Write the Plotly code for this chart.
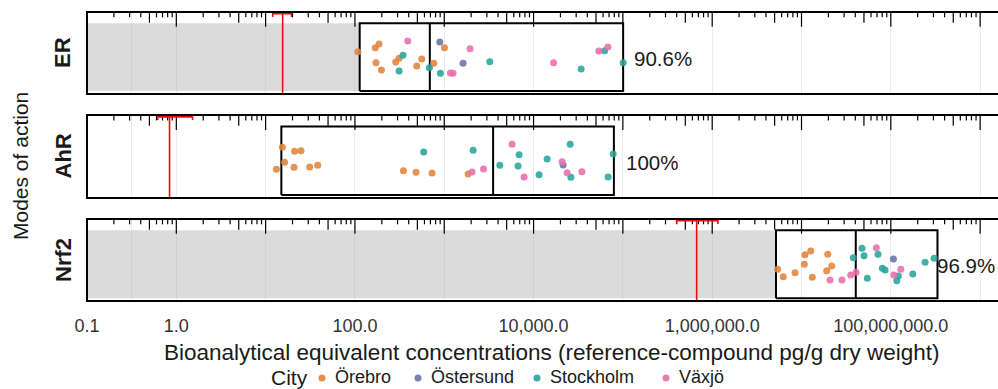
import math
import plotly.graph_objects as go

# ---------------- data ----------------
modes = ["ER", "AhR", "Nrf2"]
cities = ["Örebro", "Östersund", "Stockholm", "Växjö"]
city_colors = ["#E0843A", "#6673A8", "#25A59C", "#E96EAB"]

er_city = ["Örebro", "Örebro", "Örebro", "Växjö", "Örebro", "Örebro", "Stockholm",
           "Örebro", "Örebro", "Stockholm", "Örebro", "Örebro", "Stockholm", "Örebro",
           "Östersund", "Örebro", "Stockholm", "Växjö", "Växjö", "Växjö", "Östersund",
           "Stockholm", "Växjö", "Stockholm", "Växjö", "Växjö", "Stockholm", "Stockholm"]
er_value = [108, 169, 186, 390, 172, 198, 345, 312, 286, 312, 492, 560, 682, 763,
            891, 1005, 906, 1173, 1255, 1945, 1625, 3236, 16750, 34100, 53800, 67900,
            62400, 100700]
er_jitter = [0.516, 0.565, 0.610, 0.646, 0.382, 0.293, 0.472, 0.435, 0.390, 0.280,
             0.341, 0.427, 0.321, 0.374, 0.634, 0.565, 0.252, 0.256, 0.252, 0.552,
             0.374, 0.394, 0.382, 0.305, 0.524, 0.573, 0.528, 0.382]

ahr_city = ["Örebro", "Örebro", "Örebro", "Örebro", "Örebro", "Örebro", "Örebro",
            "Örebro", "Örebro", "Örebro", "Stockholm", "Örebro", "Stockholm", "Örebro",
            "Växjö", "Växjö", "Stockholm", "Växjö", "Stockholm", "Stockholm", "Växjö",
            "Stockholm", "Stockholm", "Växjö", "Östersund", "Stockholm", "Växjö",
            "Stockholm", "Växjö", "Stockholm", "Stockholm"]
ahr_value = [15.4, 21.1, 24.9, 16.3, 13.2, 20.8, 31.1, 38.3, 349, 483, 589, 730,
             2104, 1849, 2048, 2750, 4188, 5750, 6890, 6710, 7840, 11530, 14190,
             20890, 21430, 25700, 23770, 26140, 34750, 68400, 77840]
ahr_jitter = [0.611, 0.563, 0.570, 0.430, 0.346, 0.370, 0.373, 0.394, 0.329, 0.310,
              0.554, 0.301, 0.575, 0.289, 0.313, 0.349, 0.394, 0.647, 0.522, 0.386,
              0.253, 0.281, 0.470, 0.437, 0.398, 0.647, 0.305, 0.249, 0.317, 0.253,
              0.530]

nrf2_city = ["Örebro"] * 10 + ["Växjö"] * 4 + ["Stockholm"] * 3 + ["Växjö"] + \
            ["Stockholm"] * 4 + ["Östersund"] + ["Växjö"] * 2 + ["Stockholm"] * 5
nrf2_value = [5.41e6, 6.25e6, 8.46e6, 1.094e7, 1.268e7, 1.075e7, 1.321e7, 1.967e7,
              2.18e7, 1.916e7, 2.085e7, 2.84e7, 3.56e7, 4.08e7, 3.80e7, 4.76e7,
              5.01e7, 6.89e7, 7.19e7, 5.46e7, 8.04e7, 8.63e7, 1.069e8, 1.294e8,
              1.08e8, 1.216e8, 1.167e8, 1.762e8, 2.42e8, 3.05e8]
nrf2_jitter = [0.387, 0.296, 0.345, 0.565, 0.610, 0.448, 0.289, 0.570, 0.427, 0.370,
               0.256, 0.256, 0.317, 0.350, 0.528, 0.643, 0.552, 0.650, 0.570, 0.277,
               0.399, 0.378, 0.512, 0.387, 0.317, 0.305, 0.248, 0.329, 0.472, 0.521]

box_min = [113, 15.0, 5.18e6]
box_median = [689, 3524, 4.05e7]
box_max = [100700, 79300, 3.33e8]
shade_end = [113, None, 5.18e6]          # grey region (below detection)
red_line = [15.5, 0.84, 6.7e5]
red_cap_lo = [12.0, 0.62, 4.0e5]         # extent of the red cap at the panel top
red_cap_hi = [19.5, 1.52, 1.16e6]
detect_pct = ["90.6%", "100%", "96.9%"]

tick_vals = [0.1, 1, 100, 1e4, 1e6, 1e8]
tick_text = ["0.1", "1.0", "100.0", "10,000.0", "1,000,000.0", "100,000,000.0"]
minor_vals = [10 ** -0.5, 10, 1e3, 1e5, 1e7, 1e9]

panel_city = [er_city, ahr_city, nrf2_city]
panel_value = [er_value, ahr_value, nrf2_value]
panel_jitter = [er_jitter, ahr_jitter, nrf2_jitter]

# ---------------- layout geometry ----------------
FONT = "Liberation Sans, Arial, sans-serif"
W, H = 998, 389
ML, MR, MT, MB = 87, 0, 12, 88
PW, PH = W - ML - MR, H - MT - MB
domains = [[0.7163, 1.0], [0.3564, 0.6436], [0.0, 0.2837]]
BOX_LO, BOX_HI = 0.035, 0.862


def px_x(px):
    return (px - ML) / PW


def px_y(py):
    return (H - MB - py) / PH


fig = go.Figure()

# log ticks hanging from the top border
tick_x, tick_y = [], []
for k in range(-1, 10):
    for m in range(1, 10):
        v = m * 10 ** k
        ln = 0.18 if m == 1 else (0.13 if m == 5 else 0.065)
        tick_x += [v, v, None]
        tick_y += [1.0, 1.0 - ln, None]

for i, mode in enumerate(modes):
    xa = "x" if i == 0 else f"x{i+1}"
    ya = "y" if i == 0 else f"y{i+1}"

    # grey shaded region
    if shade_end[i] is not None:
        fig.add_trace(go.Scatter(
            x=[10 ** -1.2, shade_end[i], shade_end[i], 10 ** -1.2, 10 ** -1.2],
            y=[BOX_LO, BOX_LO, BOX_HI, BOX_HI, BOX_LO],
            fill="toself", fillcolor="rgba(175,175,175,0.45)", mode="lines",
            line=dict(width=0), hoverinfo="skip", showlegend=False,
            xaxis=xa, yaxis=ya))

    # top log ticks
    fig.add_trace(go.Scatter(x=tick_x, y=tick_y, mode="lines",
                             line=dict(color="black", width=1.2),
                             hoverinfo="skip", showlegend=False,
                             xaxis=xa, yaxis=ya))

    # red reference line with its cap at the top
    fig.add_trace(go.Scatter(
        x=[red_line[i], red_line[i], None,
           red_cap_lo[i], red_cap_lo[i], red_cap_hi[i], red_cap_hi[i]],
        y=[0, 1, None, 0.94, 0.978, 0.978, 0.94],
        mode="lines", line=dict(color="#E3100F", width=1.6),
        hoverinfo="skip", showlegend=False, xaxis=xa, yaxis=ya))

    # crossbar (min / median / max)
    fig.add_trace(go.Scatter(
        x=[box_min[i], box_max[i], box_max[i], box_min[i], box_min[i], None,
           box_median[i], box_median[i]],
        y=[BOX_LO, BOX_LO, BOX_HI, BOX_HI, BOX_LO, None, BOX_LO, BOX_HI],
        mode="lines", line=dict(color="black", width=2),
        hoverinfo="skip", showlegend=False, xaxis=xa, yaxis=ya))

    # jittered points per city
    for c, col in zip(cities, city_colors):
        xs = [v for v, cc in zip(panel_value[i], panel_city[i]) if cc == c]
        ys = [j for j, cc in zip(panel_jitter[i], panel_city[i]) if cc == c]
        fig.add_trace(go.Scatter(
            x=xs, y=ys, mode="markers", name=c, legendgroup=c,
            showlegend=False,
            marker=dict(color=col, size=7, opacity=0.88, line=dict(width=0)),
            xaxis=xa, yaxis=ya))

    # detection percentage label
    fig.add_annotation(x=math.log10(box_max[i]), y=0.43, xref=xa, yref=ya,
                       text=detect_pct[i], showarrow=False, xanchor="left",
                       yanchor="middle", xshift=[9, 10, -2][i],
                       font=dict(size=20.5, color="#1A1A1A", family=FONT))

    # panel border (right side runs off the page, as in the cropped original)
    fig.add_shape(type="rect", xref=f"{xa} domain", yref=f"{ya} domain",
                  x0=0, x1=1.05, y0=0, y1=1, line=dict(color="black", width=2),
                  fillcolor="rgba(0,0,0,0)", layer="above")

    # strip label
    fig.add_annotation(x=px_x(63), y=sum(domains[i]) / 2,
                       xref="paper", yref="paper", text=f"<b>{mode}</b>",
                       textangle=-90, showarrow=False,
                       xanchor="center", yanchor="middle",
                       font=dict(size=22, color="#1A1A1A", family=FONT))

axis_common = dict(type="log", range=[-1, 9.2], showline=False, zeroline=False,
                   tickvals=tick_vals, ticktext=tick_text, ticks="",
                   showgrid=True, gridcolor="#EBEBEB", gridwidth=1,
                   minor=dict(tickmode="array", tickvals=minor_vals, showgrid=True,
                              gridcolor="#EBEBEB", gridwidth=1, ticks=""),
                   fixedrange=True, automargin=False)
yaxis_common = dict(range=[0, 1], showgrid=False, zeroline=False,
                    showticklabels=False, ticks="", showline=False,
                    fixedrange=True, automargin=False)

layout = dict(
    width=W, height=H,
    margin=dict(l=ML, r=MR, t=MT, b=MB, autoexpand=False),
    plot_bgcolor="white", paper_bgcolor="white",
    font=dict(family=FONT, color="#1A1A1A"),
    showlegend=False,
)
for i in range(3):
    xk = "xaxis" if i == 0 else f"xaxis{i+1}"
    yk = "yaxis" if i == 0 else f"yaxis{i+1}"
    ya = "y" if i == 0 else f"y{i+1}"
    ax = dict(axis_common)
    ax["anchor"] = ya
    ax["domain"] = [0, 1]
    if i < 2:
        ax["showticklabels"] = False
        ax["matches"] = "x3"
    else:
        ax["showticklabels"] = True
        ax["tickfont"] = dict(size=18, color="#333333", family=FONT)
        ax["ticklabelstandoff"] = 12
    layout[xk] = ax
    yy = dict(yaxis_common)
    yy["domain"] = domains[i]
    yy["anchor"] = "x" if i == 0 else f"x{i+1}"
    layout[yk] = yy

fig.update_layout(**layout)

# axis titles
fig.add_annotation(x=px_x(551), y=px_y(352), xref="paper", yref="paper",
                   xanchor="center", yanchor="middle", borderpad=0,
                   text="Bioanalytical equivalent concentrations (reference-compound pg/g dry weight)",
                   showarrow=False, font=dict(size=22.5, color="#1A1A1A", family=FONT))
fig.add_annotation(x=px_x(21), y=px_y(166), xref="paper", yref="paper",
                   xanchor="center", yanchor="middle",
                   text="Modes of action", textangle=-90, showarrow=False,
                   font=dict(size=21, color="#1A1A1A", family=FONT))

# legend (City)
LEG_Y = 377
fig.add_annotation(x=px_x(289), y=px_y(LEG_Y + 0.5), xref="paper", yref="paper",
                   text="City", showarrow=False, xanchor="center", yanchor="middle",
                   borderpad=0,
                   font=dict(size=21, color="#1A1A1A", family=FONT))
legend_dot_px = [322, 418, 537, 666]
for c, col, dx in zip(cities, city_colors, legend_dot_px):
    r = 3.5
    fig.add_shape(type="circle", xref="paper", yref="paper",
                  x0=px_x(dx - r), x1=px_x(dx + r),
                  y0=px_y(LEG_Y + 1 + r), y1=px_y(LEG_Y + 1 - r),
                  fillcolor=col, line=dict(width=0), opacity=0.9)
    fig.add_annotation(x=px_x(dx + 12), y=px_y(LEG_Y), xref="paper", yref="paper",
                       text=c, showarrow=False, xanchor="left", yanchor="middle",
                       borderpad=0,
                       font=dict(size=18, color="#1A1A1A", family=FONT))

fig.write_html(
    "out.html",
    config={"displayModeBar": False},
    post_script="document.body.style.margin='0';document.body.style.overflow='hidden';",
)
